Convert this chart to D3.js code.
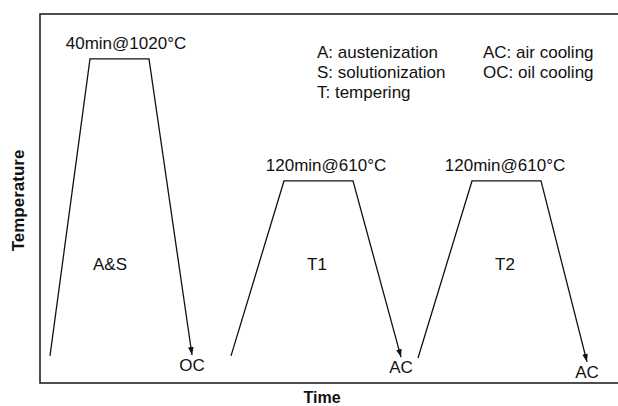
<!DOCTYPE html>
<html>
<head>
<meta charset="utf-8">
<script src="https://cdn.jsdelivr.net/npm/d3@7"></script>
<style>
  body { margin: 0; background: #fff; }
  text { font-family: "Liberation Sans", Arial, sans-serif; fill: #111; }
</style>
</head>
<body>
<div id="chart"></div>
<script>
// Schematic heat-treatment route: time (arbitrary units) vs temperature (°C)
const stages = ["A&S", "T1", "T2"];
const startTime = [10, 191, 378];
const holdStart = [50, 244, 432];
const holdEnd = [109, 313, 501];
const endTime = [152, 361, 547];
const startTemp = [22, 22, 15];
const holdTemp = [1020, 610, 610];
const endTemp = [25, 18, 2];
const holdLabels = ["40min@1020°C", "120min@610°C", "120min@610°C"];
const holdLabelTime = [86, 286, 465];
const stageLabelTime = [70, 277, 465];
const stageLabelTemp = 330;
const coolLabels = ["OC", "AC", "AC"];
const legendLeft = ["A: austenization", "S: solutionization", "T: tempering"];
const legendRight = ["AC: air cooling", "OC: oil cooling"];

const W = 618, H = 406;
const margin = { top: 14, right: -4, bottom: 23, left: 40 };

const svg = d3.select("#chart").append("svg")
  .attr("width", W)
  .attr("height", H);

// Skalaer
const x = d3.scaleLinear().domain([0, 582]).range([margin.left, W - margin.right]);
const y = d3.scaleLinear().domain([-69, 1171]).range([H - margin.bottom, margin.top]);

// Pilespids
svg.append("defs").append("marker")
  .attr("id", "arrow")
  .attr("viewBox", "0 0 10 10")
  .attr("refX", 10).attr("refY", 5)
  .attr("markerWidth", 8).attr("markerHeight", 8)
  .attr("markerUnits", "userSpaceOnUse")
  .attr("orient", "auto")
  .append("path")
  .attr("d", "M0,1.5 L10,5 L0,8.5 Z")
  .attr("fill", "#111");

// Ramme
svg.append("rect")
  .attr("x", x(0))
  .attr("y", y(1171))
  .attr("width", x(582) - x(0))
  .attr("height", y(-69) - y(1171))
  .attr("fill", "none")
  .attr("stroke", "#222")
  .attr("stroke-width", 1.6);

const data = stages.map((s, i) => ({
  stage: s,
  pts: [
    [startTime[i], startTemp[i]],
    [holdStart[i], holdTemp[i]],
    [holdEnd[i], holdTemp[i]],
    [endTime[i], endTemp[i]]
  ],
  hold: holdLabels[i],
  holdT: holdLabelTime[i],
  stageT: stageLabelTime[i],
  cool: coolLabels[i]
}));

const line = d3.line().x(d => x(d[0])).y(d => y(d[1]));

svg.selectAll(".route")
  .data(data)
  .join("path")
  .attr("class", "route")
  .attr("d", d => line(d.pts))
  .attr("fill", "none")
  .attr("stroke", "#111")
  .attr("stroke-width", 1.3)
  .attr("stroke-linejoin", "miter")
  .attr("marker-end", "url(#arrow)");

// Holdetid over plateau
svg.selectAll(".hold")
  .data(data)
  .join("text")
  .attr("class", "hold")
  .attr("x", d => x(d.holdT))
  .attr("y", d => y(d.pts[1][1]) - 10)
  .attr("text-anchor", "middle")
  .style("font-size", "17px")
  .text(d => d.hold);

// Navn i midten af trapez
svg.selectAll(".stage")
  .data(data)
  .join("text")
  .attr("class", "stage")
  .attr("x", d => x(d.stageT))
  .attr("y", d => y(stageLabelTemp) + 6)
  .attr("text-anchor", "middle")
  .style("font-size", "17px")
  .text(d => d.stage);

// Afkølingstype under pil
svg.selectAll(".cool")
  .data(data)
  .join("text")
  .attr("class", "cool")
  .attr("x", d => x(d.pts[3][0]))
  .attr("y", d => y(d.pts[3][1]) + 16)
  .attr("text-anchor", "middle")
  .style("font-size", "17px")
  .text(d => d.cool);

// Forklaring
svg.selectAll(".legL")
  .data(legendLeft)
  .join("text")
  .attr("class", "legL")
  .attr("x", 317)
  .attr("y", (d, i) => 58 + i * 20)
  .style("font-size", "17px")
  .text(d => d);

svg.selectAll(".legR")
  .data(legendRight)
  .join("text")
  .attr("class", "legR")
  .attr("x", 483)
  .attr("y", (d, i) => 58 + i * 20)
  .style("font-size", "17px")
  .text(d => d);

// Aksetitler
svg.append("text")
  .attr("transform", `translate(24,${(y(-69) + y(1171)) / 2 + 2}) rotate(-90)`)
  .attr("text-anchor", "middle")
  .style("font-size", "17px")
  .style("font-weight", "bold")
  .text("Temperature");

svg.append("text")
  .attr("x", 322)
  .attr("y", 403)
  .attr("text-anchor", "middle")
  .style("font-size", "16px")
  .style("font-weight", "bold")
  .text("Time");
</script>
</body>
</html>
